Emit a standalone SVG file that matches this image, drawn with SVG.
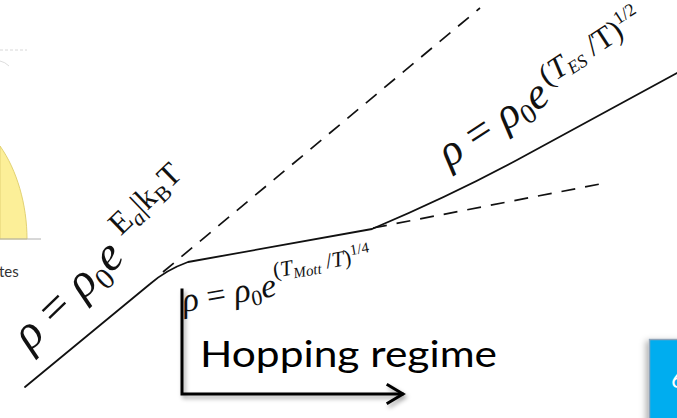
<svg xmlns="http://www.w3.org/2000/svg" width="677" height="418" viewBox="0 0 677 418">
<defs>
<style>
.curve{fill:none;stroke:#111;stroke-width:1.8;stroke-linecap:round;stroke-linejoin:round}
.dash{fill:none;stroke:#111;stroke-width:1.7;stroke-dasharray:14 10}
.f{font-family:"Liberation Serif","DejaVu Serif",serif;fill:#111}
.i{font-style:italic}
.axis{fill:none;stroke:#000;stroke-width:3;stroke-linecap:square}
</style>
<filter id="sh" x="-20%" y="-20%" width="140%" height="140%">
<feDropShadow dx="2" dy="3" stdDeviation="2" flood-color="#000" flood-opacity="0.35"/>
</filter>
<filter id="sh2" x="-50%" y="-20%" width="150%" height="140%">
<feDropShadow dx="-3" dy="2" stdDeviation="3" flood-color="#000" flood-opacity="0.3"/>
</filter>
</defs>
<rect width="677" height="418" fill="#fff"/>

<g id="bg-left">
<line x1="0" y1="50" x2="27" y2="50" stroke="#d8d8d8" stroke-width="1" stroke-dasharray="3 2"/>
<path d="M0,61 Q5,62 9,66" fill="none" stroke="#ddd" stroke-width="1"/>
<path d="M0,239 L27,239 C27,205 17,170 0,146 Z" fill="#fcef98" stroke="#e2d274" stroke-width="1"/>
<line x1="0" y1="239" x2="41" y2="239" stroke="#b0b0b0" stroke-width="1"/>
<text x="-1" y="277" font-family="Lato,'Open Sans',sans-serif" font-size="15" fill="#333">tes</text>
</g>

<g id="connectors">
<path class="curve" d="M25,387 L150,284 Q166,270 188,262 L372,229 Q450,196 517,160 L677,73"/>
<line class="dash" x1="163" y1="272" x2="480" y2="8"/>
<line class="dash" x1="373" y1="228" x2="600" y2="184"/>
</g>

<g id="formula-activated">
<text class="f" transform="translate(30,352) rotate(-44)" font-size="48"><tspan class="i">ρ</tspan> = <tspan class="i">ρ</tspan><tspan font-size="30" dy="9">0</tspan><tspan class="i" dy="-9">e</tspan><tspan font-size="32" dx="12" dy="-20">E</tspan><tspan font-size="22" class="i" dy="6">a</tspan><tspan font-size="32" dy="-6">|k</tspan><tspan font-size="22" dy="6">B</tspan><tspan font-size="32" dy="-6">T</tspan></text>
</g>

<g id="formula-mott">
<text class="f" transform="translate(184,312) rotate(-10)" font-size="34"><tspan class="i">ρ</tspan> = <tspan class="i">ρ</tspan><tspan font-size="22" dy="6">0</tspan><tspan class="i" dy="-6">e</tspan><tspan font-size="22" dy="-18">(</tspan><tspan font-size="22" class="i">T</tspan><tspan font-size="15" class="i" dy="4">Mott</tspan><tspan font-size="22" dy="-4"> /</tspan><tspan font-size="22" class="i">T</tspan><tspan font-size="22">)</tspan><tspan font-size="15" dy="-9">1/4</tspan></text>
</g>

<g id="formula-es">
<text class="f" transform="translate(449,168) rotate(-33)" font-size="44"><tspan class="i">ρ</tspan> = <tspan class="i">ρ</tspan><tspan font-size="28" dy="7">0</tspan><tspan class="i" dy="-7">e</tspan><tspan font-size="31" dx="4" dy="-15">(</tspan><tspan font-size="31" class="i">T</tspan><tspan font-size="18" class="i" dy="4">ES</tspan><tspan font-size="31" dy="-4"> /T)</tspan><tspan font-size="18" dy="-13">1/2</tspan></text>
</g>

<g id="hopping-axis" filter="url(#sh)">
<path class="axis" d="M182,290 L182,394 L402,394"/>
<path class="axis" d="M388,385 L403,394 L388,403" stroke-linecap="round"/>
</g>
<g id="hopping-label">
<text x="200" y="367" font-family="Lato,'Open Sans',sans-serif" font-size="36" fill="#000" textLength="297" lengthAdjust="spacingAndGlyphs">Hopping regime</text>
</g>

<g id="blue-box">
<rect x="649.5" y="339.5" width="40" height="90" fill="#00adef" stroke="#8ea2b8" stroke-width="1.5" filter="url(#sh2)"/>
<text x="671" y="388" font-family="Lato,'Open Sans',sans-serif" font-size="24" fill="#fff">6</text>
</g>
</svg>
